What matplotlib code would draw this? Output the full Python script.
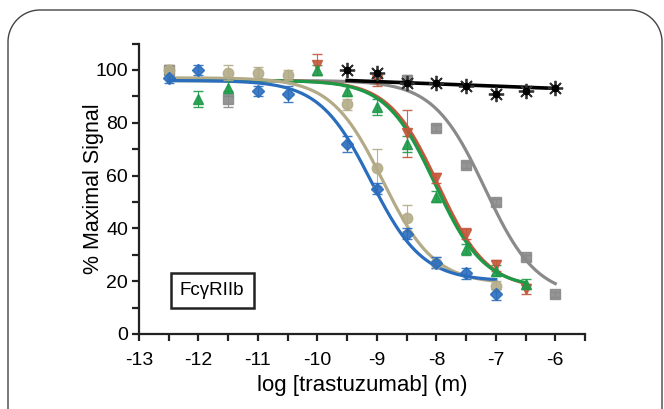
import numpy as np
import matplotlib
matplotlib.use("Agg")
import matplotlib.pyplot as plt

plt.rcParams["font.family"] = ["Liberation Sans", "DejaVu Sans"]

# log [trastuzumab] (M) dose points, % maximal signal and SD per antibody
BLUE_X = [-12.5, -12, -11, -10.5, -9.5, -9, -8.5, -8, -7.5, -7]
BLUE_Y = [97, 100, 92, 91, 72, 55, 38, 27, 23, 15]
BLUE_E = [2, 2, 2, 3, 3, 2, 2, 2, 2, 2]
TAN_X = [-12.5, -11.5, -11, -10.5, -9.5, -9, -8.5, -8, -7]
TAN_Y = [100, 99, 99, 98, 87, 63, 44, 27, 18]
TAN_E = [2, 3, 2, 2, 2, 7, 5, 2, 2]
GREEN_X = [-12, -11.5, -10, -9.5, -9, -8.5, -8, -7.5, -7, -6.5]
GREEN_Y = [89, 93, 100, 92, 86, 72, 52, 32, 24, 19]
GREEN_E = [3, 3, 2, 2, 3, 3, 2, 2, 2, 2]
RED_X = [-10, -9, -8.5, -8, -7.5, -7, -6.5]
RED_Y = [102, 96, 76, 59, 38, 26, 17]
RED_E = [4, 2, 9, 2, 2, 2, 2]
GRAY_X = [-12.5, -11.5, -8.5, -8, -7.5, -7, -6.5, -6]
GRAY_Y = [100, 89, 96, 78, 64, 50, 29, 15]
GRAY_E = [2, 3, 2, 1, 1, 1, 1, 1]
BLACK_X = [-9.5, -9, -8.5, -8, -7.5, -7, -6.5, -6]
BLACK_Y = [100, 99, 95, 95, 94, 91, 92, 93]

# fitted 4PL parameters: top, bottom, logIC50, hill slope, fit range
BLUE_FIT = [96, 20, -9.1, 1.0, -12.5, -7]
TAN_FIT = [97, 19, -8.9, 1.0, -12.5, -7]
GREEN_FIT = [96, 17.5, -8.02, 1.05, -12.5, -6.5]
RED_FIT = [96, 17, -7.97, 1.05, -12.5, -6.5]
GRAY_FIT = [96, 14, -7.18, 1.0, -12.5, -6]
# black: flat linear fit (value at start, value at end, range)
BLACK_FIT = [96, 93, -9.5, -6]

XTICKS = [-13, -12, -11, -10, -9, -8, -7, -6]
YTICKS = [0, 20, 40, 60, 80, 100]


def four_pl(x, top, bottom, ic50, hill):
    return bottom + (top - bottom) / (1 + 10 ** (hill * (x - ic50)))


fig = plt.figure(figsize=(6.64, 4.09), dpi=100)

# open-bottom rounded frame around the panel (pixel coordinates)
bg = fig.add_axes([0, 0, 1, 1], zorder=-1)
bg.set_autoscale_on(False)
bg.set_xlim(0, 664)
bg.set_ylim(409, 0)
bg.axis("off")
r, x0f, x1f, y0f = 32, 8, 662, 10
t = np.linspace(np.pi, 1.5 * np.pi, 30)
fx = np.concatenate([[x0f], x0f + r + r * np.cos(t), x1f - r - r * np.cos(t[::-1]), [x1f]])
fy = np.concatenate([[420], y0f + r + r * np.sin(t), y0f + r + r * np.sin(t[::-1]), [420]])
bg.plot(fx, fy, color="#444444", lw=1.0, clip_on=False)

ax = fig.add_axes([139 / 664, 75 / 409, 446 / 664, 290.5 / 409])
ax.patch.set_alpha(0)

series = [
    (GRAY_X, GRAY_Y, GRAY_E, GRAY_FIT, "#8a8a8a", "s", 7.5),
    (RED_X, RED_Y, RED_E, RED_FIT, "#c4573c", "v", 7.5),
    (GREEN_X, GREEN_Y, GREEN_E, GREEN_FIT, "#1c9a48", "^", 7.5),
    (TAN_X, TAN_Y, TAN_E, TAN_FIT, "#b3ab88", "o", 7.5),
    (BLUE_X, BLUE_Y, BLUE_E, BLUE_FIT, "#2b6dbd", "D", 6),
]

for xs, ys, es, fit, col, mk, ms in series:
    top, bottom, ic50, hill, xa, xb = fit
    xx = np.linspace(xa, xb, 200)
    ax.plot(xx, four_pl(xx, top, bottom, ic50, hill), color=col, lw=2.3, zorder=2)
    ax.errorbar(xs, ys, yerr=es, fmt=mk, color=col, ms=ms, ecolor=col,
                elinewidth=0.8, capsize=3.5, zorder=3, alpha=0.9)

# black control antibody
ax.plot(BLACK_FIT[2:], BLACK_FIT[:2], color="black", lw=2.6, zorder=4)
ax.plot(BLACK_X, BLACK_Y, linestyle="none", marker=(8, 2, 0), ms=11, mew=1.3,
        color="#333333", zorder=5)
ax.plot(BLACK_X, BLACK_Y, linestyle="none", marker="o", ms=4.5, color="black", zorder=5)

ax.set_xlim(-13, -5.5)
ax.set_ylim(0, 110)
ax.set_xticks(XTICKS)
ax.set_xticks(np.arange(-12.5, -5.4, 1.0), minor=True)
ax.set_yticks(YTICKS)
ax.set_yticks(np.arange(10, 111, 20), minor=True)
ax.set_xticklabels([str(v) for v in XTICKS])
ax.tick_params(axis="both", which="both", direction="out", length=5, width=1.6,
               labelsize=14, color="#222222")
ax.tick_params(axis="x", pad=8)
ax.tick_params(axis="y", pad=3)
for s in ["top", "right"]:
    ax.spines[s].set_visible(False)
for s in ["left", "bottom"]:
    ax.spines[s].set_linewidth(1.6)
    ax.spines[s].set_color("#222222")

ax.set_xlabel("log [trastuzumab] (m)", fontsize=16, labelpad=4)
ax.set_ylabel("% Maximal Signal", fontsize=15.5, labelpad=-6)

ax.text(-11.77, 16.5, "FcγRIIb", fontsize=13.5, ha="center", va="center",
        bbox=dict(boxstyle="square,pad=0.5", fc="white", ec="#222222", lw=1.8))

fig.savefig("out.png", dpi=100)
